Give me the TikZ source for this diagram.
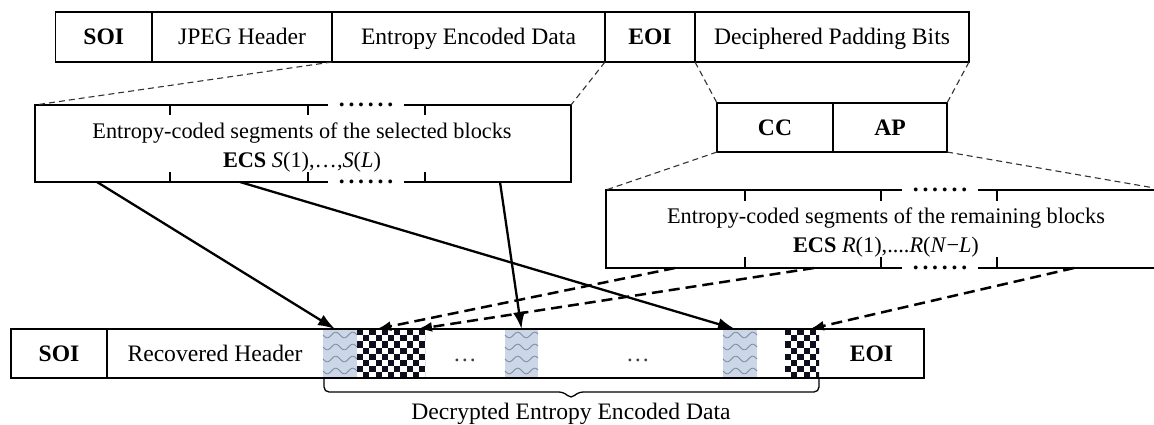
\documentclass[tikz,border=0pt]{standalone}
\usepackage{fontspec}
\setmainfont{Liberation Serif}
\usetikzlibrary{arrows.meta,calc}
\definecolor{wavefill}{HTML}{CBD7E7}
\definecolor{wavestroke}{HTML}{7D8DA5}
\definecolor{checkink}{HTML}{0E0E1C}
\definecolor{zoomgray}{HTML}{333333}
% six spaced dots that interrupt a segment border
\newcommand\sixdots{\textbf{.\kern3.8pt.\kern3.8pt.\kern3.8pt.\kern3.8pt.\kern3.8pt.}}
% cell of the recovered row filled with wavy lines (left x, right x)
\newcommand\wavycell[2]{%
  \fill[wavefill] (#1,329) rectangle (#2,378);
  \foreach \yy in {335,347,359,371}
    \draw[wavestroke, line width=0.9pt] plot[domain=#1:#2, samples=40, smooth] (\x,{\yy+2.8*sin(360*(\x-#1)/17)});
}
% cell of the recovered row filled with a checkerboard (left x, right x)
\newcommand\checkcell[2]{%
  \begin{scope}
    \clip (#1,329) rectangle (#2,378);
    \foreach \i in {0,...,11}
      \foreach \j in {0,...,8} {
        \pgfmathtruncatemacro\chkpar{mod(\i+\j,2)}
        \ifnum\chkpar=0 \fill[checkink] ({#1+\i*6.2},{329+\j*6.2}) rectangle ++(6.2,6.2);\fi
      }
  \end{scope}}
\begin{document}
\begin{tikzpicture}[x=1pt, y=-1pt,
  font=\fontsize{23.6pt}{29pt}\selectfont,
  box/.style={draw, line width=1.3pt, rectangle, inner sep=0pt, outer sep=0pt},
  txt/.style={text height=15.6pt, text depth=0pt, inner sep=0pt},
  cell/.style={rectangle, inner sep=0pt, outer sep=0pt, minimum height=49pt, txt},
  segtext/.style={align=center, inner sep=0pt, font=\fontsize{22.3pt}{29pt}\selectfont},
  dotgap/.style={fill=white, anchor=base, inner xsep=11pt, inner ysep=1.5pt},
  zoomline/.style={zoomgray, line width=1.1pt, dash pattern=on 6pt off 4pt},
  solidarrow/.style={line width=2.3pt, -{Latex[length=17pt,width=12pt]}},
  dasharrow/.style={line width=2.5pt, dash pattern=on 11pt off 6pt, -{Latex[length=14pt,width=10pt]}},
  tick/.style={line width=1.3pt}]
\fill[white] (0,0) rectangle (1154,425);
\useasboundingbox (0,0) rectangle (1154,425);

% ---- original JPEG stream ----
\node[box, txt, minimum width=96.5pt, minimum height=50pt] (soi) at (103.75,37) {\textbf{SOI}};
\node[box, txt, minimum width=180pt, minimum height=50pt] (jpeg) at (242,37) {JPEG Header};
\node[box, txt, minimum width=273pt, minimum height=50pt] (eed) at (468.5,37) {Entropy Encoded Data};
\node[box, txt, minimum width=90pt, minimum height=50pt] (eoi) at (650,37) {\textbf{EOI}};
\node[box, txt, minimum width=274pt, minimum height=50pt] (dpb) at (832,37) {Deciphered Padding Bits};

% ---- selected blocks ----
\node[box, minimum width=536pt, minimum height=77pt] (ecss) at (303,143.5) {};
\foreach \tx in {170,308,425} {
  \draw[tick] (\tx,105) -- (\tx,115);
  \draw[tick] (\tx,182) -- (\tx,172);
}
\node[dotgap] (ecsstop) at (366,106.5) {\sixdots};
\node[dotgap] (ecssbot) at (366,183.5) {\sixdots};
\node[segtext] (ecsstext) at (302,147.5)
  {Entropy-coded segments of the selected blocks\\ \textbf{ECS} \textit{S}(1),…,\textit{S}(\textit{L})};

% ---- padding bits ----
\node[box, txt, minimum width=116pt, minimum height=49pt] (cc) at (775,127.5) {\textbf{CC}};
\node[box, txt, minimum width=114pt, minimum height=49pt] (ap) at (890,127.5) {\textbf{AP}};

% ---- remaining blocks (runs past the right edge) ----
\node[box, minimum width=560pt, minimum height=78pt] (ecsr) at (886,229) {};
\foreach \tx in {745,881,997} {
  \draw[tick] (\tx,190) -- (\tx,201);
  \draw[tick] (\tx,268) -- (\tx,257);
}
\node[dotgap] (ecsrtop) at (940,191.5) {\sixdots};
\node[dotgap] (ecsrbot) at (940,269.5) {\sixdots};
\node[segtext] (ecsrtext) at (886,233)
  {Entropy-coded segments of the remaining blocks\\ \textbf{ECS} \textit{R}(1),....\textit{R}(\textit{N}−\textit{L})};

% ---- zoom guides ----
\draw[zoomline] (eed.south west) -- (ecss.north west);
\draw[zoomline] (eed.south east) -- (ecss.north east);
\draw[zoomline] (eoi.south east) -- (cc.north west);
\draw[zoomline] (dpb.south east) -- (ap.north east);
\draw[zoomline] (cc.south west) -- (ecsr.north west);
\draw[zoomline] (ap.south east) -- (ecsr.north east);

% ---- recovered JPEG stream ----
\wavycell{323}{357}
\checkcell{357}{425}
\wavycell{505}{538}
\wavycell{723}{757}
\checkcell{785}{819}
\node[box, minimum width=913pt, minimum height=49pt] (brow) at (467.5,353.5) {};
\node[cell, minimum width=96pt] (bsoi) at (59,353.5) {\textbf{SOI}};
\draw[tick] (bsoi.north east) -- (bsoi.south east);
\node[cell, minimum width=216pt] (rech) at (215,353.5) {Recovered Header};
\node[cell, minimum width=34pt] (w1) at (340,353.5) {};
\node[cell, minimum width=68pt] (c1) at (391,353.5) {};
\node[cell, minimum width=60pt, text=black!75] (d1) at (465,353.5) {…};
\node[cell, minimum width=33pt] (w2) at (521.5,353.5) {};
\node[cell, minimum width=60pt, text=black!75] (d2) at (638,353.5) {…};
\node[cell, minimum width=34pt] (w3) at (740,353.5) {};
\node[cell, minimum width=34pt] (c2) at (802,353.5) {};
\node[cell, minimum width=105pt] (beoi) at (871.5,353.5) {\textbf{EOI}};

% ---- brace and its label ----
\draw[line width=1.3pt, rounded corners=5pt]
  ($(w1.south west)+(1,1)$) -- ++(0,13)
  -- ($(w1.south west)!0.5!(c2.south east)+(-7,14)$) -- ++(7,7) -- ++(7,-7)
  -- ($(c2.south east)+(0,14)$) -- ($(c2.south east)+(0,1)$);
\node[anchor=base, inner sep=0pt] (lbl) at ($(w1.south west)!0.5!(c2.south east)+(0,41)$)
  {Decrypted Entropy Encoded Data};

% ---- data flow ----
\coordinate (s1) at ($(ecss.south west)+(62,0)$);
\coordinate (s2) at ($(ecss.south west)+(205,0)$);
\coordinate (s3) at ($(ecss.south west)+(465,0)$);
\coordinate (r1) at ($(ecsr.south west)+(69,0)$);
\coordinate (r2) at ($(ecsr.south west)+(208,0)$);
\coordinate (r3) at ($(ecsr.south west)+(468,0)$);
\draw[solidarrow] (s1) -- ($(w1.north)+(-5,0)$);
\draw[solidarrow] (s2) -- ($(w3.north)+(-5,0)$);
\draw[solidarrow] (s3) -- (w2.north);
\draw[dasharrow] (r1) -- ($(c1.north)+(-14,0)$);
\draw[dasharrow] (r2) -- ($(c1.north)+(27,0)$);
\draw[dasharrow] (r3) -- ($(c2.north)+(8,0)$);
\end{tikzpicture}
\end{document}
